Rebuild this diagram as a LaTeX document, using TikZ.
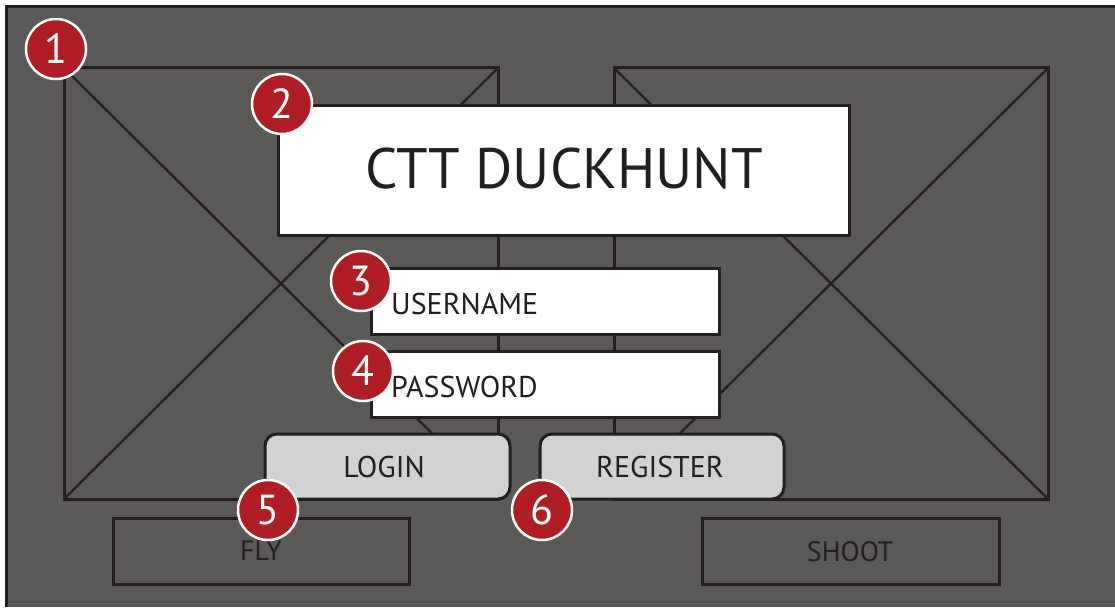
\documentclass[tikz,border=0pt]{standalone}
\usepackage{fontspec}
\setmainfont{PT Sans}
\definecolor{bggray}{HTML}{5A5957}
\definecolor{ink}{HTML}{231F20}
\definecolor{badge}{HTML}{B01E23}
\definecolor{btn}{HTML}{D1D2D4}
\tikzset{
  frame/.style={draw=ink, line width=3pt, fill=none, rectangle, inner sep=0pt, outer sep=0pt, anchor=north west},
  placeholder/.style={frame},
  whitebox/.style={frame, fill=white},
  button/.style={frame, fill=btn, rounded corners=12pt},
  outline/.style={frame},
  diag/.style={draw=ink, line width=2.2pt},
  label/.style={text=ink, inner sep=0pt, anchor=base},
  numbadge/.style={circle, fill=badge, draw=white, line width=2.5pt, minimum size=60pt, inner sep=0pt, text=white, font=\fontsize{42}{42}\selectfont}
}
\begin{document}
\begin{tikzpicture}[x=1pt,y=-1pt]
\useasboundingbox (0,0) rectangle (1115,607);
\fill[white] (0,0) rectangle (1115,607);
% background panel
\fill[bggray] (6.5,6.5) rectangle (1115,607);
\draw[ink, line width=3pt] (6.5,607) -- (6.5,6.5) -- (1115,6.5);
% image placeholders
\node[placeholder, minimum width=434pt, minimum height=431pt] (phL) at (64,68) {};
\draw[diag] (phL.north west) -- (phL.south east);
\draw[diag] (phL.north east) -- (phL.south west);
\node[placeholder, minimum width=434pt, minimum height=431pt] (phR) at (614,68) {};
\draw[diag] (phR.north west) -- (phR.south east);
\draw[diag] (phR.north east) -- (phR.south west);
% title
\node[whitebox, minimum width=571pt, minimum height=129pt] (title) at (278,106) {};
\node[label, font=\fontsize{57}{57}\selectfont] (titletext) at (564,188) {CTT DUCKHUNT};
% fields
\node[whitebox, minimum width=348pt, minimum height=66pt] (user) at (371,268) {};
\node[label, anchor=base west, font=\fontsize{30}{30}\selectfont] (usertext) at (391,314) {USERNAME};
\node[whitebox, minimum width=348pt, minimum height=66pt] (pass) at (371,351) {};
\node[label, anchor=base west, font=\fontsize{30}{30}\selectfont] (passtext) at (391,397) {PASSWORD};
% buttons
\node[button, minimum width=245pt, minimum height=65pt] (login) at (265,434) {};
\node[label, font=\fontsize{30}{30}\selectfont] (logintext) at (384,477) {LOGIN};
\node[button, minimum width=244pt, minimum height=65pt] (register) at (540,434) {};
\node[label, font=\fontsize{30}{30}\selectfont] (registertext) at (660,477) {REGISTER};
% bottom controls
\node[outline, minimum width=296pt, minimum height=66pt] (fly) at (113,518) {};
\node[label, font=\fontsize{28}{28}\selectfont] (flytext) at (261,560) {FLY};
\node[outline, minimum width=297pt, minimum height=66pt] (shoot) at (702,518) {};
\node[label, font=\fontsize{28}{28}\selectfont] (shoottext) at (850,561) {SHOOT};
% badges
\node[numbadge] (b1) at (56,49) {1};
\node[numbadge] (b2) at (282,104) {2};
\node[numbadge] (b3) at (361,281) {3};
\node[numbadge] (b4) at (363,371) {4};
\node[numbadge] (b5) at (268,510) {5};
\node[numbadge] (b6) at (542,510) {6};
\end{tikzpicture}
\end{document}
